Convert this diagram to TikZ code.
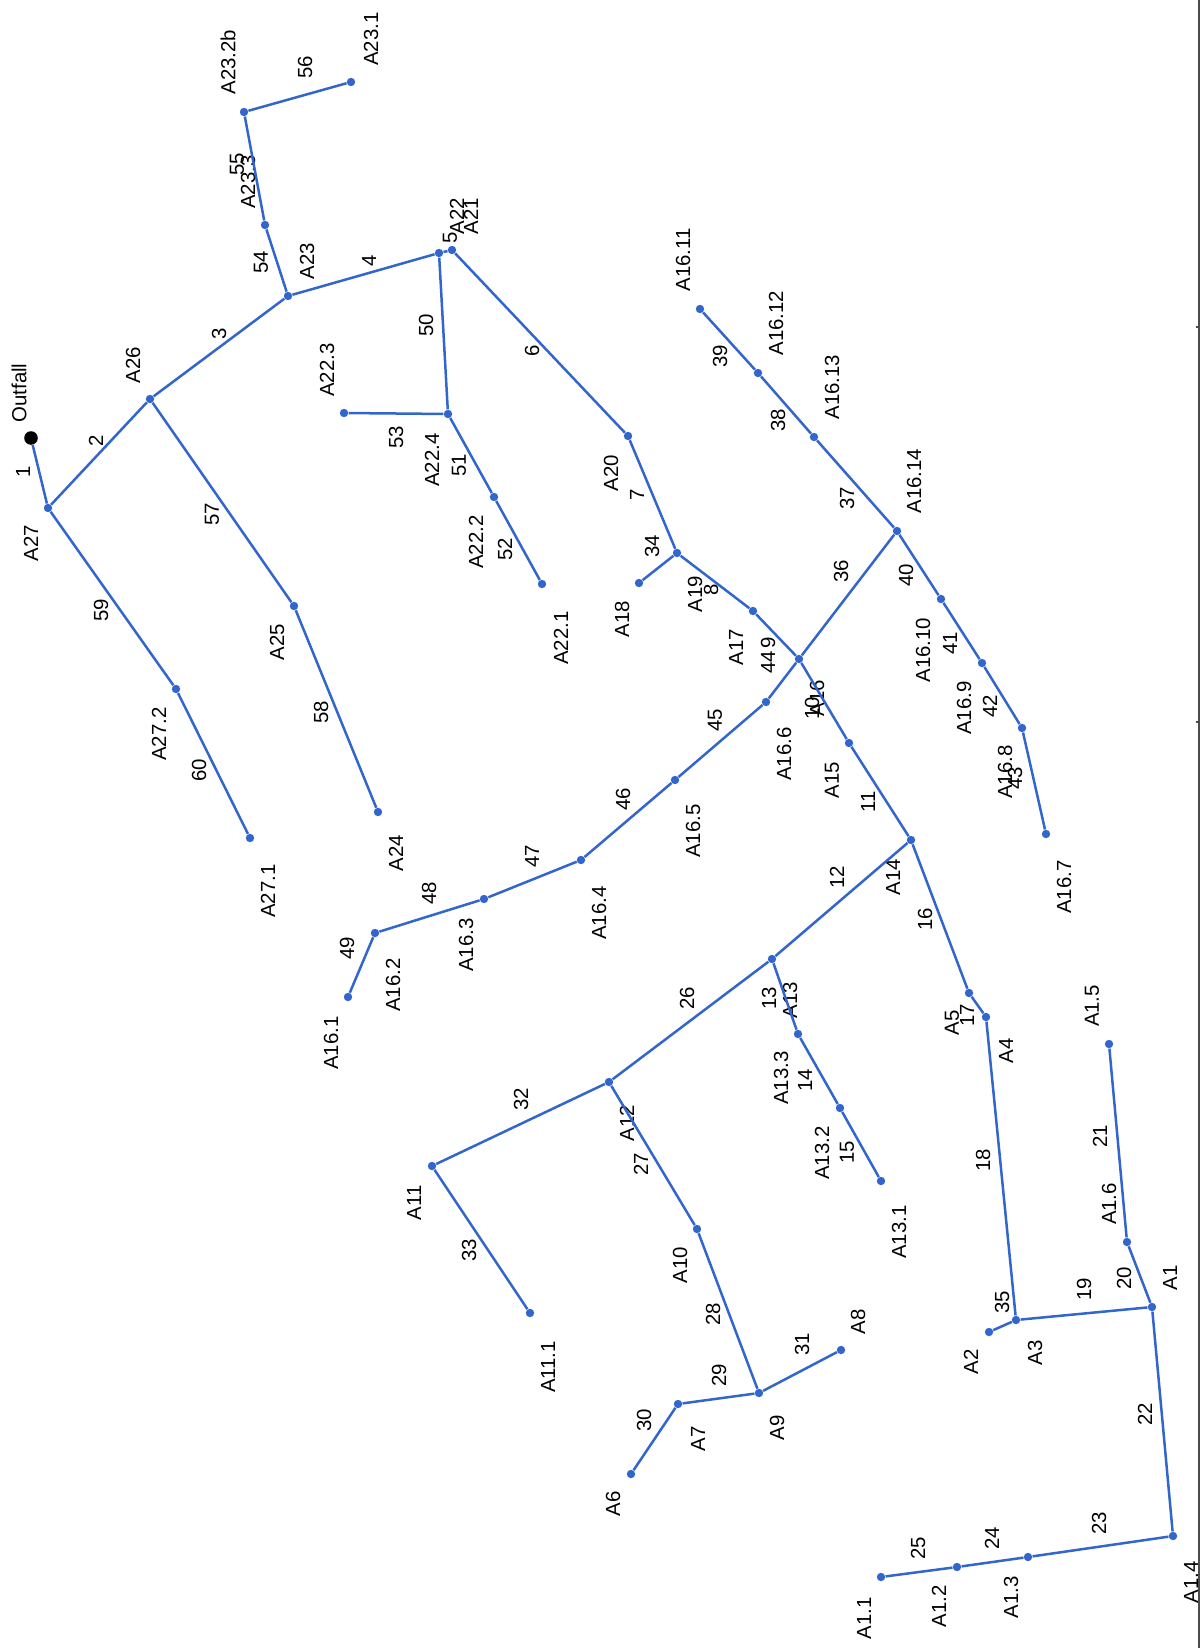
\documentclass[tikz,border=0pt]{standalone}
\usepackage{fontspec}
\setmainfont{Liberation Sans}
\definecolor{pipeblue}{HTML}{3366CC}
\begin{document}
\begin{tikzpicture}[x=0.5pt,y=-0.5pt,
  dot/.style={circle,fill=pipeblue,draw=none,inner sep=0pt,minimum size=4.2pt},
  outdot/.style={circle,fill=black,draw=none,inner sep=0pt,minimum size=6.8pt},
  pipe/.style={draw=pipeblue,line width=1.25pt},
  lbl/.style={rotate=90,inner sep=0pt,font=\fontsize{10.2}{12}\selectfont},
  frameline/.style={draw=black!70,line width=0.7pt}]
\fill[white] (0,0) rectangle (1200,1648);
\useasboundingbox (0,0) rectangle (1200,1648);
\draw[frameline] (1199,0) -- (1199,1648);
\draw[frameline] (1196,327) -- (1199,327);
\draw[frameline] (1196,722) -- (1199,722);
% outfall
\node[outdot] (Out) at (31,438) {};
\node[lbl] (lOut) at (19,393) {Outfall};
% junctions
\foreach \n/\x/\y/\lx/\ly/\t in {
 A27/48/508/31/543/A27,
 A26/150/399/133/365/A26,
 A23/288/296/307/261/A23,
 A23x3/265/225/248/182/A23.3,
 A23x2b/244/112/228/62/A23.2b,
 A23x1/351/82/371/39/A23.1,
 A22/439/253/457/216/A22,
 A21/452/250/471/216/A21,
 A22x4/448/414/432/460/A22.4,
 A22x3/344/413/327/370/A22.3,
 A22x2/494/497/476/542/A22.2,
 A22x1/542/584/561/638/A22.1,
 A20/628/436/611/473/A20,
 A19/677/553/695/594/A19,
 A18/639/583/622/619/A18,
 A17/753/611/736/647/A17,
 A16/799/659/817/698/A16,
 A16x14/897/531/914/481/A16.14,
 A16x13/814/437/832/387/A16.13,
 A16x12/758/373/776/323/A16.12,
 A16x11/700/309/683/260/A16.11,
 A16x10/941/599/923/650/A16.10,
 A16x9/982/663/964/708/A16.9,
 A16x8/1022/728/1005/772/A16.8,
 A16x7/1046/834/1064/887/A16.7,
 A16x6/766/702/784/754/A16.6,
 A16x5/675/780/693/831/A16.5,
 A16x4/581/860/599/913/A16.4,
 A16x3/484/899/466/945/A16.3,
 A16x2/375/933/393/985/A16.2,
 A16x1/348/997/331/1043/A16.1,
 A15/849/743/832/780/A15,
 A14/911/840/893/877/A14,
 A13/772/959/790/1000/A13,
 A13x3/798/1034/781/1078/A13.3,
 A13x2/840/1108/822/1153/A13.2,
 A13x1/881/1181/899/1232/A13.1,
 A12/609/1082/627/1123/A12,
 A11/432/1166/414/1203/A11,
 A11x1/530/1313/548/1367/A11.1,
 A10/697/1229/680/1265/A10,
 A9/759/1393/777/1428/A9,
 A7/678/1404/698/1439/A7,
 A6/631/1474/613/1504/A6,
 A8/841/1350/858/1322/A8,
 A5/969/993/952/1023/A5,
 A4/986/1017/1006/1051/A4,
 A3/1016/1320/1035/1353/A3,
 A2/989/1332/971/1362/A2,
 A1/1152/1307/1170/1278/A1,
 A1x6/1127/1242/1109/1204/A1.6,
 A1x5/1109/1044/1092/1006/A1.5,
 A1x4/1173/1536/1191/1582/A1.4,
 A1x3/1028/1557/1011/1597/A1.3,
 A1x2/957/1567/939/1606/A1.2,
 A1x1/881/1577/864/1618/A1.1,
 A27x2/176/689/159/734/A27.2,
 A27x1/250/838/268/891/A27.1,
 A25/294/606/277/642/A25,
 A24/378/812/396/853/A24}{
  \node[dot] (\n) at (\x,\y) {};
  \node[lbl] (l\n) at (\lx,\ly) {\t};
}
% pipes
\foreach \a/\b/\num/\ex/\ey in {
 Out/A27/1/23/472,
 A27/A26/2/96/441,
 A26/A23/3/219/334,
 A23/A22/4/369/261,
 A22/A21/5/450/238,
 A21/A20/6/532/351,
 A20/A19/7/637/495,
 A19/A17/8/711/590,
 A17/A16/9/768/643,
 A16/A15/10/812/708,
 A15/A14/11/868/802,
 A14/A13/12/837/877,
 A13/A13x3/13/769/998,
 A13x3/A13x2/14/805/1080,
 A13x2/A13x1/15/847/1152,
 A14/A5/16/925/919,
 A5/A4/17/967/1015,
 A4/A3/18/983/1160,
 A3/A1/19/1084/1289,
 A1/A1x6/20/1124/1278,
 A1x6/A1x5/21/1100/1136,
 A1/A1x4/22/1145/1414,
 A1x4/A1x3/23/1099/1523,
 A1x3/A1x2/24/992/1538,
 A1x2/A1x1/25/918/1548,
 A13/A12/26/687/998,
 A12/A10/27/641/1164,
 A10/A9/28/713/1314,
 A9/A7/29/719/1375,
 A7/A6/30/644/1420,
 A9/A8/31/802/1344,
 A12/A11/32/521/1099,
 A11/A11x1/33/469/1250,
 A19/A18/34/652/546,
 A3/A2/35/1002/1302,
 A16/A16x14/36/841/571,
 A16x14/A16x13/37/847/498,
 A16x13/A16x12/38/778/420,
 A16x12/A16x11/39/720/356,
 A16x14/A16x10/40/906/575,
 A16x10/A16x9/41/950/643,
 A16x9/A16x8/42/990/706,
 A16x8/A16x7/43/1015/778,
 A16/A16x6/44/768/662,
 A16x6/A16x5/45/715/720,
 A16x5/A16x4/46/623/799,
 A16x4/A16x3/47/532/856,
 A16x3/A16x2/48/429/893,
 A16x2/A16x1/49/347/948,
 A22/A22x4/50/426/325,
 A22x4/A22x2/51/459/465,
 A22x2/A22x1/52/505/549,
 A22x4/A22x3/53/396/437,
 A23/A23x3/54/261/262,
 A23x3/A23x2b/55/237/164,
 A23x2b/A23x1/56/305/67,
 A26/A25/57/212/514,
 A25/A24/58/321/712,
 A27/A27x2/59/101/610,
 A27x2/A27x1/60/199/770}{
  \draw[pipe] (\a) -- (\b);
  \node[lbl] (e\num) at (\ex,\ey) {\num};
}
\end{tikzpicture}
\end{document}
